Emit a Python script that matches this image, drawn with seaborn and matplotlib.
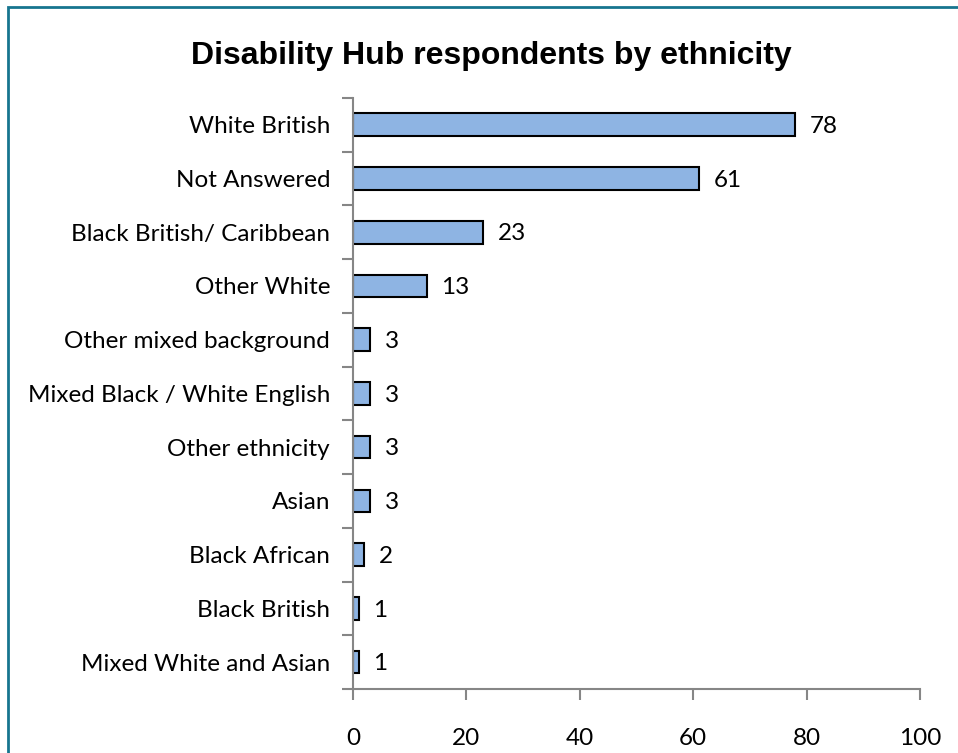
import matplotlib
matplotlib.use("Agg")
import matplotlib.pyplot as plt
import seaborn as sns
import pandas as pd

# Data
categories = [
    "White British",
    "Not Answered",
    "Black British/ Caribbean",
    "Other White",
    "Other mixed background",
    "Mixed Black / White English",
    "Other ethnicity",
    "Asian",
    "Black African",
    "Black British",
    "Mixed White and Asian",
]
counts = [78, 61, 23, 13, 3, 3, 3, 3, 2, 1, 1]
x_ticks = [0, 20, 40, 60, 80, 100]

df = pd.DataFrame({"ethnicity": categories, "count": counts})

sns.set_style("white")
plt.rcParams["font.family"] = ["Lato", "DejaVu Sans"]
plt.rcParams["text.color"] = "black"
plt.rcParams["xtick.color"] = "black"
plt.rcParams["ytick.color"] = "black"

fig = plt.figure(figsize=(9.58, 7.53), dpi=100)
ax = fig.add_axes([0.3685, 0.085, 0.5918, 0.785])

sns.barplot(data=df, x="count", y="ethnicity", orient="h", color="#8EB4E3",
            edgecolor="black", linewidth=1.5, width=0.42, saturation=1, ax=ax)

# Value labels to the right of each bar
for i, val in enumerate(counts):
    ax.text(val + 2.6, i + 0.03, f"{val}", ha="left", va="center", fontsize=17.5, color="black")

ax.set_xlim(0, 100)
ax.set_ylim(len(categories) - 0.5, -0.5)
ax.set_xticks(x_ticks)
ax.set_xticklabels([str(t) for t in x_ticks], fontsize=17.5)
# category boundaries get the tick marks, labels sit between them
ax.set_yticks([i - 0.5 for i in range(len(categories) + 1)], minor=False)
ax.set_yticklabels([])
ax.set_yticks(range(len(categories)), minor=True)
ax.set_yticklabels(categories, minor=True, fontsize=17.5)
ax.tick_params(axis="y", which="minor", left=False, length=0, pad=16.5)
ax.tick_params(axis="y", which="major", left=True, length=8, width=1.5,
               color="#868686", direction="out")
ax.tick_params(axis="x", bottom=True, length=8, width=1.5, color="#868686",
               direction="out", pad=20)
ax.set_xlabel("")
ax.set_ylabel("")

for side in ["top", "right"]:
    ax.spines[side].set_visible(False)
for side in ["left", "bottom"]:
    ax.spines[side].set_color("#868686")
    ax.spines[side].set_linewidth(1.5)

fig.text(0.513, 0.925, "Disability Hub respondents by ethnicity", ha="center", va="center",
         fontsize=23, fontweight="bold", family="Liberation Sans", color="black")

# Chart area border (teal), as in the original spreadsheet export
border = plt.Rectangle((0.008, -0.05), 1.1, 1.041, transform=fig.transFigure,
                       fill=False, edgecolor="#17758F", linewidth=2, clip_on=False)
fig.patches.append(border)

fig.savefig("out.png", dpi=100)
